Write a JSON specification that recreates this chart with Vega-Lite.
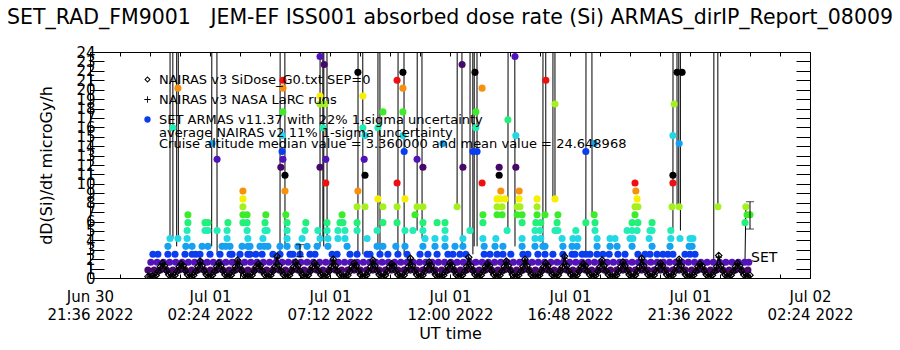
{
"$schema":"https://vega.github.io/schema/vega-lite/v6.json",
"width":720,"height":226,
"autosize":{"type":"none"},
"padding":{"left":90,"top":52,"right":90,"bottom":72},
"background":"white",
"title":{"text":"SET_RAD_FM9001\u00a0\u00a0 JEM-EF ISS001 absorbed dose rate (Si) ARMAS_dirIP_Report_08009","font":"DejaVu Sans","fontSize":20.5,"fontWeight":"normal","color":"black","anchor":"middle","baseline":"bottom","offset":24,"dy":27},
"config":{"view":{"stroke":"black","strokeWidth":1},
"axis":{"domain":false,"grid":false,"tickColor":"black","tickWidth":1,"labelColor":"black","titleColor":"black","labelFont":"DejaVu Sans","titleFont":"DejaVu Sans","titleFontWeight":"normal"}},
"datasets":{
"spk":[{"g":1,"m":48,"v":4.2},{"g":1,"m":51,"v":400},{"g":1,"m":55,"v":4.2},
{"g":2,"m":64,"v":3.36},{"g":2,"m":66,"v":400},{"g":2,"m":68,"v":4.2},
{"g":3,"m":148,"v":3.36},{"g":3,"m":154,"v":400},{"g":3,"m":161,"v":2.52},
{"g":4,"m":312,"v":2.52},{"g":4,"m":318,"v":400},{"g":4,"m":324,"v":3.36},
{"g":5,"m":408,"v":3.36},{"g":5,"m":411,"v":400},{"g":5,"m":415,"v":4.2},
{"g":6,"m":417,"v":3.36},{"g":6,"m":421,"v":400},{"g":6,"m":425,"v":4.2},
{"g":7,"m":499,"v":2.52},{"g":7,"m":505,"v":400},{"g":7,"m":511,"v":2.52},
{"g":8,"m":547,"v":3.36},{"g":8,"m":549,"v":400},{"g":8,"m":552,"v":2.52},
{"g":9,"m":595,"v":2.52},{"g":9,"m":602,"v":400},{"g":9,"m":610,"v":2.52},
{"g":10,"m":641,"v":5.04},{"g":10,"m":647,"v":400},{"g":10,"m":653,"v":4.2},
{"g":11,"m":737,"v":7.56},{"g":11,"m":743,"v":400},{"g":11,"m":749,"v":3.36},
{"g":12,"m":768,"v":5.04},{"g":12,"m":771,"v":400},{"g":12,"m":775,"v":2.52},
{"g":13,"m":778,"v":3.36},{"g":13,"m":781,"v":400},{"g":13,"m":785,"v":3.36},
{"g":14,"m":859,"v":5.04},{"g":14,"m":867,"v":400},{"g":14,"m":876,"v":3.36},
{"g":15,"m":943,"v":3.36},{"g":15,"m":946,"v":400},{"g":15,"m":950,"v":6.72},
{"g":16,"m":967,"v":8.4},{"g":16,"m":970,"v":400},{"g":16,"m":972,"v":8.4},
{"g":17,"m":1046,"v":2.52},{"g":17,"m":1053,"v":400},{"g":17,"m":1061,"v":6.72},
{"g":18,"m":1255,"v":5.04},{"g":18,"m":1260,"v":400},{"g":18,"m":1265,"v":7.56},
{"g":19,"m":1269,"v":7.56},{"g":19,"m":1271,"v":400},{"g":19,"m":1273,"v":5.04},
{"g":20,"m":1353,"v":1.68},{"g":20,"m":1358,"v":400},{"g":20,"m":1363,"v":7.56},
{"g":21,"m":1428,"v":1.68},{"g":21,"m":1430,"v":7.56}],
"armas":[
{"m":-5,"v":0.84},{"m":10,"v":0.84},{"m":25,"v":0.84},{"m":40,"v":0.84},{"m":55,"v":0.84},{"m":70,"v":0.84},{"m":85,"v":0.84},{"m":100,"v":0.84},{"m":115,"v":0.84},{"m":130,"v":0.84},{"m":145,"v":0.84},{"m":160,"v":0.84},{"m":175,"v":0.84},{"m":190,"v":0.84},{"m":205,"v":0.84},{"m":220,"v":0.84},{"m":235,"v":0.84},{"m":250,"v":0.84},{"m":265,"v":0.84},{"m":280,"v":0.84},{"m":295,"v":0.84},{"m":310,"v":0.84},{"m":325,"v":0.84},{"m":340,"v":0.84},{"m":355,"v":0.84},{"m":370,"v":0.84},{"m":385,"v":0.84},{"m":400,"v":0.84},{"m":415,"v":0.84},{"m":430,"v":0.84},{"m":445,"v":0.84},{"m":460,"v":0.84},{"m":475,"v":0.84},{"m":490,"v":0.84},{"m":505,"v":0.84},{"m":520,"v":0.84},{"m":535,"v":0.84},{"m":550,"v":0.84},{"m":565,"v":0.84},{"m":580,"v":0.84},{"m":595,"v":0.84},{"m":610,"v":0.84},{"m":625,"v":0.84},{"m":640,"v":0.84},{"m":655,"v":0.84},{"m":670,"v":0.84},{"m":685,"v":0.84},{"m":700,"v":0.84},{"m":715,"v":0.84},{"m":730,"v":0.84},{"m":745,"v":0.84},{"m":760,"v":0.84},{"m":775,"v":0.84},{"m":790,"v":0.84},{"m":805,"v":0.84},{"m":820,"v":0.84},{"m":835,"v":0.84},{"m":850,"v":0.84},{"m":865,"v":0.84},{"m":880,"v":0.84},{"m":895,"v":0.84},{"m":910,"v":0.84},{"m":925,"v":0.84},{"m":940,"v":0.84},{"m":955,"v":0.84},{"m":970,"v":0.84},{"m":985,"v":0.84},{"m":1000,"v":0.84},{"m":1015,"v":0.84},{"m":1030,"v":0.84},{"m":1045,"v":0.84},{"m":1060,"v":0.84},{"m":1075,"v":0.84},{"m":1090,"v":0.84},{"m":1105,"v":0.84},{"m":1120,"v":0.84},{"m":1135,"v":0.84},{"m":1150,"v":0.84},{"m":1165,"v":0.84},{"m":1180,"v":0.84},{"m":1195,"v":0.84},{"m":1210,"v":0.84},{"m":1225,"v":0.84},{"m":1240,"v":0.84},{"m":1255,"v":0.84},{"m":1270,"v":0.84},{"m":1285,"v":0.84},{"m":1300,"v":0.84},{"m":1315,"v":0.84},{"m":1330,"v":0.84},{"m":1345,"v":0.84},{"m":1360,"v":0.84},{"m":1375,"v":0.84},{"m":1390,"v":0.84},{"m":1405,"v":0.84},{"m":1420,"v":0.84},{"m":1435,"v":0.84},
{"m":2,"v":1.68},{"m":17,"v":1.68},{"m":32,"v":1.68},{"m":47,"v":1.68},{"m":62,"v":1.68},{"m":77,"v":1.68},{"m":92,"v":1.68},{"m":107,"v":1.68},{"m":122,"v":1.68},{"m":137,"v":1.68},{"m":152,"v":1.68},{"m":167,"v":1.68},{"m":182,"v":1.68},{"m":197,"v":1.68},{"m":212,"v":1.68},{"m":227,"v":1.68},{"m":242,"v":1.68},{"m":257,"v":1.68},{"m":272,"v":1.68},{"m":287,"v":1.68},{"m":302,"v":1.68},{"m":317,"v":1.68},{"m":332,"v":1.68},{"m":347,"v":1.68},{"m":362,"v":1.68},{"m":377,"v":1.68},{"m":392,"v":1.68},{"m":407,"v":1.68},{"m":422,"v":1.68},{"m":437,"v":1.68},{"m":452,"v":1.68},{"m":467,"v":1.68},{"m":482,"v":1.68},{"m":497,"v":1.68},{"m":512,"v":1.68},{"m":527,"v":1.68},{"m":542,"v":1.68},{"m":557,"v":1.68},{"m":572,"v":1.68},{"m":587,"v":1.68},{"m":602,"v":1.68},{"m":617,"v":1.68},{"m":632,"v":1.68},{"m":647,"v":1.68},{"m":662,"v":1.68},{"m":677,"v":1.68},{"m":692,"v":1.68},{"m":707,"v":1.68},{"m":722,"v":1.68},{"m":737,"v":1.68},{"m":752,"v":1.68},{"m":767,"v":1.68},{"m":782,"v":1.68},{"m":797,"v":1.68},{"m":812,"v":1.68},{"m":827,"v":1.68},{"m":842,"v":1.68},{"m":857,"v":1.68},{"m":872,"v":1.68},{"m":887,"v":1.68},{"m":902,"v":1.68},{"m":917,"v":1.68},{"m":932,"v":1.68},{"m":947,"v":1.68},{"m":962,"v":1.68},{"m":977,"v":1.68},{"m":992,"v":1.68},{"m":1007,"v":1.68},{"m":1022,"v":1.68},{"m":1037,"v":1.68},{"m":1052,"v":1.68},{"m":1067,"v":1.68},{"m":1082,"v":1.68},{"m":1097,"v":1.68},{"m":1112,"v":1.68},{"m":1127,"v":1.68},{"m":1142,"v":1.68},{"m":1157,"v":1.68},{"m":1172,"v":1.68},{"m":1187,"v":1.68},{"m":1202,"v":1.68},{"m":1217,"v":1.68},{"m":1232,"v":1.68},{"m":1247,"v":1.68},{"m":1262,"v":1.68},{"m":1277,"v":1.68},{"m":1292,"v":1.68},{"m":1307,"v":1.68},{"m":1322,"v":1.68},{"m":1337,"v":1.68},{"m":1352,"v":1.68},{"m":1367,"v":1.68},{"m":1382,"v":1.68},{"m":1397,"v":1.68},{"m":1412,"v":1.68},{"m":1427,"v":1.68},{"m":1437,"v":1.68},
{"m":19,"v":2.52},{"m":60,"v":2.52},{"m":110,"v":2.52},{"m":197,"v":2.52},{"m":254,"v":2.52},{"m":295,"v":2.52},{"m":343,"v":2.52},{"m":437,"v":2.52},{"m":480,"v":2.52},{"m":528,"v":2.52},{"m":571,"v":2.52},{"m":667,"v":2.52},{"m":715,"v":2.52},{"m":758,"v":2.52},{"m":816,"v":2.52},{"m":866,"v":2.52},{"m":907,"v":2.52},{"m":967,"v":2.52},{"m":1056,"v":2.52},{"m":1087,"v":2.52},{"m":1188,"v":2.52},{"m":1231,"v":2.52},{"m":1284,"v":2.52},
{"m":7,"v":2.52},
{"m":43,"v":2.52},{"m":43,"v":3.36},{"m":48,"v":4.2},{"m":55,"v":15.96},
{"m":67,"v":4.2},{"m":67,"v":20.16},
{"m":84,"v":2.52},{"m":86,"v":3.36},{"m":89,"v":4.2},{"m":89,"v":5.04},{"m":91,"v":5.88},{"m":91,"v":6.72},
{"m":101,"v":2.52},{"m":101,"v":3.36},
{"m":120,"v":2.52},{"m":125,"v":3.36},{"m":132,"v":5.04},{"m":132,"v":5.88},{"m":139,"v":5.04},{"m":139,"v":5.88},{"m":144,"v":2.52},{"m":139,"v":3.36},
{"m":149,"v":14.28},{"m":161,"v":12.6},{"m":161,"v":5.04},
{"m":168,"v":2.52},{"m":173,"v":3.36},{"m":185,"v":4.2},{"m":185,"v":5.04},{"m":187,"v":5.88},{"m":192,"v":2.52},{"m":192,"v":3.36},{"m":182,"v":3.36},
{"m":216,"v":2.52},{"m":235,"v":2.52},{"m":221,"v":3.36},{"m":235,"v":3.36},{"m":235,"v":4.2},{"m":233,"v":5.04},{"m":223,"v":5.88},{"m":233,"v":5.88},{"m":223,"v":6.72},{"m":233,"v":6.72},{"m":223,"v":7.56},{"m":223,"v":8.4},{"m":223,"v":9.24},
{"m":240,"v":2.52},{"m":269,"v":2.52},{"m":240,"v":3.36},{"m":264,"v":3.36},{"m":274,"v":3.36},{"m":283,"v":3.36},{"m":271,"v":4.2},{"m":276,"v":5.04},{"m":281,"v":5.04},{"m":276,"v":5.88},{"m":278,"v":6.72},
{"m":317,"v":13.44},{"m":319,"v":12.6},{"m":314,"v":11.76},{"m":324,"v":10.92},{"m":324,"v":9.24},{"m":326,"v":6.72},{"m":329,"v":5.88},{"m":329,"v":5.04},{"m":329,"v":4.2},{"m":312,"v":3.36},{"m":329,"v":3.36},{"m":336,"v":2.52},{"m":312,"v":2.52},{"m":319,"v":21},{"m":319,"v":20.16},{"m":319,"v":17.64},{"m":317,"v":15.12},
{"m":365,"v":4.2},{"m":372,"v":5.04},{"m":374,"v":5.88},{"m":355,"v":3.36},{"m":377,"v":3.36},{"m":360,"v":2.52},{"m":384,"v":2.52},
{"m":408,"v":11.76},{"m":422,"v":12.6},{"m":422,"v":10.08},{"m":425,"v":5.88},{"m":403,"v":5.04},{"m":425,"v":5.04},{"m":408,"v":4.2},{"m":427,"v":4.2},{"m":401,"v":3.36},{"m":427,"v":3.36},{"m":396,"v":2.52},{"m":408,"v":23.52},{"m":418,"v":22.68},{"m":408,"v":19.32},{"m":408,"v":18.48},{"m":420,"v":18.48},{"m":415,"v":15.96},
{"m":461,"v":6.72},{"m":456,"v":5.88},{"m":463,"v":5.88},{"m":451,"v":5.04},{"m":468,"v":5.04},{"m":451,"v":4.2},{"m":468,"v":4.2},{"m":473,"v":3.36},{"m":449,"v":2.52},
{"m":514,"v":12.6},{"m":516,"v":10.92},{"m":499,"v":9.24},{"m":497,"v":7.56},{"m":516,"v":7.56},{"m":497,"v":5.88},{"m":497,"v":5.04},{"m":521,"v":4.2},{"m":497,"v":2.52},{"m":521,"v":2.52},{"m":499,"v":21.84},{"m":511,"v":19.32},{"m":511,"v":15.96},{"m":516,"v":15.12},
{"m":547,"v":8.4},{"m":559,"v":7.56},{"m":559,"v":5.88},{"m":545,"v":5.04},{"m":545,"v":3.36},{"m":559,"v":3.36},{"m":552,"v":2.52},{"m":559,"v":17.64},{"m":547,"v":15.96},
{"m":610,"v":13.44},{"m":593,"v":10.08},{"m":612,"v":8.4},{"m":593,"v":7.56},{"m":593,"v":5.88},{"m":612,"v":5.04},{"m":590,"v":3.36},{"m":612,"v":3.36},{"m":595,"v":2.52},{"m":617,"v":2.52},{"m":593,"v":21},{"m":607,"v":20.16},{"m":607,"v":21.84},{"m":607,"v":17.64},{"m":607,"v":15.12},
{"m":641,"v":12.6},{"m":655,"v":11.76},{"m":641,"v":7.56},{"m":655,"v":7.56},{"m":636,"v":6.72},{"m":655,"v":5.88},{"m":631,"v":5.04},{"m":655,"v":5.04},{"m":660,"v":4.2},{"m":655,"v":3.36},{"m":648,"v":2.52},
{"m":689,"v":5.88},{"m":708,"v":5.88},{"m":708,"v":5.04},{"m":684,"v":4.2},{"m":708,"v":4.2},{"m":684,"v":3.36},{"m":708,"v":3.36},{"m":689,"v":2.52},{"m":703,"v":14.28},
{"m":751,"v":11.76},{"m":737,"v":7.56},{"m":751,"v":4.2},{"m":732,"v":3.36},{"m":751,"v":3.36},{"m":727,"v":2.52},{"m":744,"v":2.52},{"m":749,"v":22.68},
{"m":768,"v":5.04},{"m":775,"v":13.44},{"m":785,"v":13.44},{"m":797,"v":10.08},{"m":799,"v":6.72},{"m":799,"v":5.88},{"m":799,"v":4.2},{"m":802,"v":3.36},{"m":802,"v":2.52},{"m":780,"v":21.84},{"m":797,"v":20.16},{"m":782,"v":17.64},{"m":782,"v":15.96},
{"m":838,"v":11.76},{"m":838,"v":10.92},{"m":842,"v":9.24},{"m":833,"v":8.4},{"m":840,"v":8.4},{"m":852,"v":8.4},{"m":833,"v":7.56},{"m":845,"v":7.56},{"m":833,"v":6.72},{"m":845,"v":6.72},{"m":830,"v":4.2},{"m":828,"v":3.36},{"m":847,"v":3.36},{"m":833,"v":2.52},{"m":847,"v":2.52},{"m":857,"v":5.04},{"m":859,"v":16.8},{"m":876,"v":23.52},{"m":878,"v":15.12},
{"m":878,"v":11.76},{"m":886,"v":9.24},{"m":886,"v":8.4},{"m":881,"v":7.56},{"m":888,"v":7.56},{"m":881,"v":6.72},{"m":893,"v":6.72},{"m":893,"v":5.88},{"m":893,"v":4.2},{"m":893,"v":3.36},{"m":895,"v":2.52},
{"m":929,"v":8.4},{"m":929,"v":7.56},{"m":929,"v":6.72},{"m":948,"v":6.72},{"m":926,"v":5.88},{"m":938,"v":5.88},{"m":924,"v":5.04},{"m":936,"v":5.04},{"m":924,"v":4.2},{"m":938,"v":4.2},{"m":924,"v":3.36},{"m":943,"v":3.36},{"m":948,"v":3.36},{"m":931,"v":2.52},{"m":948,"v":2.52},{"m":950,"v":21},{"m":972,"v":18.48},
{"m":972,"v":8.4},{"m":979,"v":6.72},{"m":977,"v":5.88},{"m":972,"v":5.04},{"m":979,"v":5.04},{"m":989,"v":4.2},{"m":991,"v":3.36},{"m":991,"v":2.52},
{"m":1022,"v":5.04},{"m":1015,"v":4.2},{"m":1027,"v":4.2},{"m":1013,"v":3.36},{"m":1025,"v":3.36},{"m":1013,"v":2.52},{"m":1020,"v":2.52},
{"m":1046,"v":13.44},{"m":1066,"v":6.72},{"m":1046,"v":5.88},{"m":1068,"v":5.88},{"m":1068,"v":5.04},{"m":1073,"v":4.2},{"m":1073,"v":3.36},{"m":1037,"v":2.52},{"m":1046,"v":2.52},{"m":1073,"v":2.52},{"m":1066,"v":14.28},
{"m":1104,"v":4.2},{"m":1116,"v":4.2},{"m":1104,"v":3.36},{"m":1121,"v":3.36},{"m":1102,"v":2.52},{"m":1123,"v":2.52},
{"m":1164,"v":10.08},{"m":1166,"v":9.24},{"m":1169,"v":8.4},{"m":1164,"v":7.56},{"m":1171,"v":7.56},{"m":1164,"v":6.72},{"m":1157,"v":5.88},{"m":1171,"v":5.88},{"m":1145,"v":5.04},{"m":1157,"v":5.04},{"m":1169,"v":5.04},{"m":1152,"v":4.2},{"m":1159,"v":4.2},{"m":1157,"v":3.36},{"m":1140,"v":2.52},{"m":1171,"v":2.52},
{"m":1205,"v":5.88},{"m":1200,"v":5.04},{"m":1205,"v":5.04},{"m":1198,"v":4.2},{"m":1205,"v":3.36},{"m":1200,"v":2.52},{"m":1217,"v":2.52},
{"m":1255,"v":10.92},{"m":1255,"v":10.08},{"m":1253,"v":7.56},{"m":1270,"v":7.56},{"m":1250,"v":5.04},{"m":1250,"v":4.2},{"m":1272,"v":4.2},{"m":1248,"v":3.36},{"m":1243,"v":2.52},{"m":1255,"v":2.52},{"m":1265,"v":21.84},{"m":1277,"v":21.84},{"m":1258,"v":18.48},{"m":1255,"v":15.12},{"m":1270,"v":14.28},
{"m":1296,"v":4.2},{"m":1303,"v":4.2},{"m":1294,"v":3.36},{"m":1301,"v":3.36},{"m":1296,"v":2.52},{"m":1308,"v":2.52},
{"m":1363,"v":7.56},
{"m":1430,"v":7.56},{"m":1433,"v":6.72},{"m":1440,"v":6.72},{"m":1428,"v":5.88}],
"nai":[
{"m":-5,"v":0.15},{"m":0,"v":0.15},{"m":5,"v":0.2},
{"m":10,"v":0.15},{"m":15,"v":0.3},{"m":20,"v":0.7},{"m":25,"v":1.2},{"m":30,"v":1.6},{"m":35,"v":1.3},{"m":40,"v":0.75},{"m":45,"v":0.35},{"m":50,"v":0.15},
{"m":55,"v":0.15},{"m":60,"v":0.3},{"m":65,"v":0.7},{"m":70,"v":1.2},{"m":75,"v":1.5},{"m":80,"v":1.3},{"m":85,"v":0.75},{"m":90,"v":0.35},{"m":95,"v":0.15},
{"m":100,"v":0.15},{"m":105,"v":0.3},{"m":110,"v":0.7},{"m":115,"v":1.2},{"m":120,"v":1.8},{"m":125,"v":1.3},{"m":130,"v":0.75},{"m":135,"v":0.35},{"m":140,"v":0.15},
{"m":145,"v":0.15},{"m":150,"v":0.3},{"m":155,"v":0.7},{"m":160,"v":1.2},{"m":165,"v":1.6},{"m":170,"v":1.3},{"m":175,"v":0.75},{"m":180,"v":0.35},{"m":185,"v":0.15},
{"m":190,"v":0.15},{"m":195,"v":0.3},{"m":200,"v":0.7},{"m":205,"v":1.2},{"m":210,"v":1.9},{"m":215,"v":1.3},{"m":220,"v":0.75},{"m":225,"v":0.35},{"m":230,"v":0.15},{"m":235,"v":0.15},
{"m":240,"v":0.15},{"m":245,"v":0.3},{"m":250,"v":0.7},{"m":255,"v":1.2},{"m":260,"v":1.5},{"m":265,"v":1.3},{"m":270,"v":0.75},{"m":275,"v":0.35},{"m":280,"v":0.15},
{"m":285,"v":0.15},{"m":290,"v":0.3},{"m":295,"v":0.7},{"m":300,"v":1.2},{"m":305,"v":2.3},{"m":310,"v":1.3},{"m":315,"v":0.75},{"m":320,"v":0.35},{"m":325,"v":0.15},
{"m":330,"v":0.15},{"m":335,"v":0.3},{"m":340,"v":0.7},{"m":345,"v":1.2},{"m":350,"v":1.7},{"m":355,"v":1.3},{"m":360,"v":0.75},{"m":365,"v":0.35},{"m":370,"v":0.15},
{"m":375,"v":0.15},{"m":380,"v":0.3},{"m":385,"v":0.7},{"m":390,"v":1.2},{"m":395,"v":1.6},{"m":400,"v":1.3},{"m":405,"v":0.75},{"m":410,"v":0.35},{"m":415,"v":0.15},
{"m":420,"v":0.15},{"m":425,"v":0.3},{"m":430,"v":0.7},{"m":435,"v":1.2},{"m":440,"v":2.0},{"m":445,"v":1.3},{"m":450,"v":0.75},{"m":455,"v":0.35},{"m":460,"v":0.15},{"m":465,"v":0.15},
{"m":470,"v":0.15},{"m":475,"v":0.3},{"m":480,"v":0.7},{"m":485,"v":1.2},{"m":490,"v":1.6},{"m":495,"v":1.3},{"m":500,"v":0.75},{"m":505,"v":0.35},{"m":510,"v":0.15},
{"m":515,"v":0.15},{"m":520,"v":0.3},{"m":525,"v":0.7},{"m":530,"v":1.2},{"m":535,"v":1.9},{"m":540,"v":1.3},{"m":545,"v":0.75},{"m":550,"v":0.35},{"m":555,"v":0.15},
{"m":560,"v":0.15},{"m":565,"v":0.3},{"m":570,"v":0.7},{"m":575,"v":1.2},{"m":580,"v":1.5},{"m":585,"v":1.3},{"m":590,"v":0.75},{"m":595,"v":0.35},{"m":600,"v":0.15},
{"m":605,"v":0.15},{"m":610,"v":0.3},{"m":615,"v":0.7},{"m":620,"v":1.2},{"m":625,"v":2.1},{"m":630,"v":1.3},{"m":635,"v":0.75},{"m":640,"v":0.35},{"m":645,"v":0.15},
{"m":650,"v":0.15},{"m":655,"v":0.3},{"m":660,"v":0.7},{"m":665,"v":1.2},{"m":670,"v":1.7},{"m":675,"v":1.3},{"m":680,"v":0.75},{"m":685,"v":0.35},{"m":690,"v":0.15},{"m":695,"v":0.15},
{"m":700,"v":0.15},{"m":705,"v":0.3},{"m":710,"v":0.7},{"m":715,"v":1.2},{"m":720,"v":1.6},{"m":725,"v":1.3},{"m":730,"v":0.75},{"m":735,"v":0.35},{"m":740,"v":0.15},
{"m":745,"v":0.15},{"m":750,"v":0.3},{"m":755,"v":0.7},{"m":760,"v":1.2},{"m":765,"v":2.2},{"m":770,"v":1.3},{"m":775,"v":0.75},{"m":780,"v":0.35},{"m":785,"v":0.15},
{"m":790,"v":0.15},{"m":795,"v":0.3},{"m":800,"v":0.7},{"m":805,"v":1.2},{"m":810,"v":1.5},{"m":815,"v":1.3},{"m":820,"v":0.75},{"m":825,"v":0.35},{"m":830,"v":0.15},
{"m":835,"v":0.15},{"m":840,"v":0.3},{"m":845,"v":0.7},{"m":850,"v":1.2},{"m":855,"v":1.8},{"m":860,"v":1.3},{"m":865,"v":0.75},{"m":870,"v":0.35},{"m":875,"v":0.15},
{"m":880,"v":0.15},{"m":885,"v":0.3},{"m":890,"v":0.7},{"m":895,"v":1.2},{"m":900,"v":2.0},{"m":905,"v":1.3},{"m":910,"v":0.75},{"m":915,"v":0.35},{"m":920,"v":0.15},{"m":925,"v":0.15},
{"m":930,"v":0.15},{"m":935,"v":0.3},{"m":940,"v":0.7},{"m":945,"v":1.2},{"m":950,"v":1.6},{"m":955,"v":1.3},{"m":960,"v":0.75},{"m":965,"v":0.35},{"m":970,"v":0.15},
{"m":975,"v":0.15},{"m":980,"v":0.3},{"m":985,"v":0.7},{"m":990,"v":1.2},{"m":995,"v":2.3},{"m":1000,"v":1.3},{"m":1005,"v":0.75},{"m":1010,"v":0.35},{"m":1015,"v":0.15},
{"m":1020,"v":0.15},{"m":1025,"v":0.3},{"m":1030,"v":0.7},{"m":1035,"v":1.2},{"m":1040,"v":1.5},{"m":1045,"v":1.3},{"m":1050,"v":0.75},{"m":1055,"v":0.35},{"m":1060,"v":0.15},
{"m":1065,"v":0.15},{"m":1070,"v":0.3},{"m":1075,"v":0.7},{"m":1080,"v":1.2},{"m":1085,"v":1.9},{"m":1090,"v":1.3},{"m":1095,"v":0.75},{"m":1100,"v":0.35},{"m":1105,"v":0.15},{"m":1110,"v":0.15},
{"m":1115,"v":0.15},{"m":1120,"v":0.3},{"m":1125,"v":0.7},{"m":1130,"v":1.2},{"m":1135,"v":1.7},{"m":1140,"v":1.3},{"m":1145,"v":0.75},{"m":1150,"v":0.35},{"m":1155,"v":0.15},
{"m":1160,"v":0.15},{"m":1165,"v":0.3},{"m":1170,"v":0.7},{"m":1175,"v":1.2},{"m":1180,"v":2.1},{"m":1185,"v":1.3},{"m":1190,"v":0.75},{"m":1195,"v":0.35},{"m":1200,"v":0.15},
{"m":1205,"v":0.15},{"m":1210,"v":0.3},{"m":1215,"v":0.7},{"m":1220,"v":1.2},{"m":1225,"v":1.6},{"m":1230,"v":1.3},{"m":1235,"v":0.75},{"m":1240,"v":0.35},{"m":1245,"v":0.15},
{"m":1250,"v":0.15},{"m":1255,"v":0.3},{"m":1260,"v":0.7},{"m":1265,"v":1.2},{"m":1270,"v":2.0},{"m":1275,"v":1.3},{"m":1280,"v":0.75},{"m":1285,"v":0.35},{"m":1290,"v":0.15},{"m":1295,"v":0.15},
{"m":1300,"v":0.15},{"m":1305,"v":0.3},{"m":1310,"v":0.7},{"m":1315,"v":1.2},{"m":1320,"v":1.5},{"m":1325,"v":1.3},{"m":1330,"v":0.75},{"m":1335,"v":0.35},{"m":1340,"v":0.15},
{"m":1345,"v":0.15},{"m":1350,"v":0.3},{"m":1355,"v":0.7},{"m":1360,"v":1.2},{"m":1365,"v":2.4},{"m":1370,"v":1.3},{"m":1375,"v":0.75},{"m":1380,"v":0.35},{"m":1385,"v":0.15},
{"m":1390,"v":0.15},{"m":1395,"v":0.3},{"m":1400,"v":0.7},{"m":1405,"v":1.2},{"m":1410,"v":1.6},{"m":1415,"v":1.3},{"m":1420,"v":0.75},{"m":1425,"v":0.35},{"m":1430,"v":0.15},
{"m":1435,"v":0.15},{"m":1440,"v":0.3}],
"larc":[{"m":30,"v":1.4},{"m":75,"v":1.3},{"m":120,"v":1.6},{"m":165,"v":1.4},{"m":210,"v":1.7},{"m":260,"v":1.3},{"m":305,"v":2.1},{"m":350,"v":1.5},{"m":395,"v":1.4},{"m":440,"v":1.8},{"m":490,"v":1.4},{"m":535,"v":1.7},{"m":580,"v":1.3},{"m":625,"v":1.9},{"m":670,"v":1.5},{"m":720,"v":1.4},{"m":765,"v":2.0},{"m":810,"v":1.3},{"m":855,"v":1.6},{"m":900,"v":1.8},{"m":950,"v":1.4},{"m":995,"v":2.1},{"m":1040,"v":1.3},{"m":1085,"v":1.7},{"m":1135,"v":1.5},{"m":1180,"v":1.9},{"m":1225,"v":1.4},{"m":1270,"v":1.8},{"m":1320,"v":1.3},{"m":1365,"v":2.2},{"m":1410,"v":1.4}],
"eb":[{"m":360,"lo":2.26,"hi":3.54,"name":""},{"m":1440,"lo":5.2,"hi":8.1,"name":"SET"}]
},
"resolve":{"axis":{"x":"independent","y":"independent"}},
"layer":[
{"data":{"name":"spk"},"mark":{"type":"line","color":"black","strokeWidth":1,"clip":true},
"encoding":{"x":{"field":"m","type":"quantitative","scale":{"domain":[-144,1584],"nice":false,"zero":false},
"axis":{"orient":"top","values":[-144,-72,0,72,144,216,288,360,432,504,576,648,720,792,864,936,1008,1080,1152,1224,1296,1368,1440,1512,1584],"labels":false,"tickSize":-4,"title":null}},
"y":{"field":"v","type":"quantitative","scale":{"domain":[0,24],"nice":false},
"axis":{"orient":"right","values":[0,1,2,3,4,5,6,7,8,9,10,11,12,13,14,15,16,17,18,19,20,21,22,23,24],"labels":false,"tickSize":-14,"title":null}},
"detail":{"field":"g","type":"nominal"}}},
{"data":{"name":"armas"},"mark":{"type":"point","shape":"circle","filled":true,"size":50,"opacity":1,"clip":true},
"encoding":{"x":{"field":"m","type":"quantitative","title":"UT time",
"axis":{"orient":"bottom","values":[-144,-72,0,72,144,216,288,360,432,504,576,648,720,792,864,936,1008,1080,1152,1224,1296,1368,1440,1512,1584],"tickSize":-4,
"labelExpr":"abs(datum.value % 288) == 144 ? [timeFormat(time(datetime(2022,6,1)) + datum.value*60000, '%b %d'), timeFormat(time(datetime(2022,6,1)) + datum.value*60000, '%H:%M %Y')] : ''",
"labelFontSize":15,"labelLineHeight":18,"labelPadding":15,"labelOverlap":false,"labelFlush":false,"labelBaseline":"top","titleFontSize":16,"titlePadding":3}},
"y":{"field":"v","type":"quantitative","title":"dD(Si)/dt microGy/h",
"axis":{"orient":"left","values":[0,1,2,3,4,5,6,7,8,9,10,11,12,13,14,15,16,17,18,19,20,21,22,23,24],"tickSize":-14,"labelFontSize":15,"labelPadding":9,"labelOverlap":false,"labelFlush":false,"titleFontSize":16,"titlePadding":21}},
"color":{"field":"v","type":"quantitative","legend":null,
"scale":{"type":"threshold","domain":[1.26,2.1,2.94,3.78,4.62,5.46,6.3,7.14,7.98,8.82,9.66,10.5,11.34,12.18,13.02,13.86,14.7,15.54,16.38,17.22,18.06,18.9,19.74,20.58,21.42,22.26,23.1,23.94],
"range":["#46086a","#5214b8","#0a3cf0","#18a0f0","#22d8e6","#22eeb4","#22f078","#3cec28","#a4f01e","#f6f000","#f6900e","#ee1010","#000000","#46086a","#5214b8","#0a3cf0","#18a0f0","#22d8e6","#22eeb4","#22f078","#3cec28","#a4f01e","#f6f000","#f6900e","#ee1010","#000000","#46086a","#5214b8","#0a3cf0"]}}}},
{"data":{"name":"nai"},"mark":{"type":"line","color":"black","strokeWidth":1.6,"clip":true},
"encoding":{"x":{"field":"m","type":"quantitative","axis":null},"y":{"field":"v","type":"quantitative","axis":null}}},
{"data":{"name":"nai"},"mark":{"type":"point","shape":"diamond","filled":false,"stroke":"black","strokeWidth":1.2,"size":40,"opacity":1,"clip":true},
"encoding":{"x":{"field":"m","type":"quantitative","axis":null},"y":{"field":"v","type":"quantitative","axis":null}}},
{"data":{"name":"larc"},"mark":{"type":"point","shape":"M-1,-0.14L1,-0.14L1,0.14L-1,0.14Z M-0.14,-1L0.14,-1L0.14,1L-0.14,1Z","filled":true,"color":"black","size":40,"opacity":1,"clip":true},
"encoding":{"x":{"field":"m","type":"quantitative","axis":null},"y":{"field":"v","type":"quantitative","axis":null}}},
{"data":{"name":"eb"},"mark":{"type":"rule","color":"black","strokeWidth":1},
"encoding":{"x":{"field":"m","type":"quantitative","axis":null},"y":{"field":"lo","type":"quantitative","axis":null},"y2":{"field":"hi"}}},
{"data":{"name":"eb"},"mark":{"type":"tick","orient":"horizontal","color":"black","size":8,"thickness":1},
"encoding":{"x":{"field":"m","type":"quantitative","axis":null},"y":{"field":"lo","type":"quantitative","axis":null}}},
{"data":{"name":"eb"},"mark":{"type":"tick","orient":"horizontal","color":"black","size":8,"thickness":1},
"encoding":{"x":{"field":"m","type":"quantitative","axis":null},"y":{"field":"hi","type":"quantitative","axis":null}}},
{"data":{"name":"eb"},"mark":{"type":"text","align":"left","baseline":"top","dx":1,"dy":22,"font":"DejaVu Sans","fontSize":14,"color":"black"},
"encoding":{"x":{"field":"m","type":"quantitative","axis":null},"y":{"field":"lo","type":"quantitative","axis":null},"text":{"field":"name"}}},
{"data":{"values":[{"series":"NAIRAS v3 SiDose_G0.txt SEP=0"},{"series":"NAIRAS v3 NASA LaRC runs"},{"series":"SET ARMAS v11.37 with 22% 1-sigma uncertainty"}]},
"transform":[{"filter":"false"}],
"mark":{"type":"point","filled":true,"opacity":1},
"encoding":{
"shape":{"field":"series","type":"nominal","scale":{"domain":["NAIRAS v3 SiDose_G0.txt SEP=0","NAIRAS v3 NASA LaRC runs","SET ARMAS v11.37 with 22% 1-sigma uncertainty"],"range":["M0,-1L1,0L0,1L-1,0Z M0,-0.55L-0.55,0L0,0.55L0.55,0Z","M-1,-0.14L1,-0.14L1,0.14L-1,0.14Z M-0.14,-1L0.14,-1L0.14,1L-0.14,1Z","circle"]},
"legend":{"orient":"none","legendX":51,"legendY":21,"direction":"vertical","title":null,"padding":0,"labelFont":"DejaVu Sans","labelFontSize":13,"labelColor":"black","labelLimit":1000,"labelOffset":5,"symbolSize":40,"symbolOpacity":1,"symbolStrokeWidth":0,"rowPadding":6}},
"fill":{"field":"series","type":"nominal","scale":{"domain":["NAIRAS v3 SiDose_G0.txt SEP=0","NAIRAS v3 NASA LaRC runs","SET ARMAS v11.37 with 22% 1-sigma uncertainty"],"range":["black","black","#0a3cf0"]},
"legend":{"orient":"none","legendX":51,"legendY":21,"direction":"vertical","title":null,"padding":0,"labelFont":"DejaVu Sans","labelFontSize":13,"labelColor":"black","labelLimit":1000,"labelOffset":5,"symbolSize":40,"symbolOpacity":1,"symbolStrokeWidth":0,"rowPadding":6}}}},
{"data":{"values":[{"note":"average NAIRAS v2 11% 1-sigma uncertainty"}]},
"transform":[{"filter":"false"}],
"mark":{"type":"rule"},
"encoding":{"strokeDash":{"field":"note","type":"nominal","scale":{"domain":["average NAIRAS v2 11% 1-sigma uncertainty"]},
"legend":{"orient":"none","legendX":51,"legendY":74,"direction":"vertical","title":null,"padding":0,"labelFont":"DejaVu Sans","labelFontSize":13,"labelColor":"black","labelLimit":1000,"labelOffset":5,"symbolType":"circle","symbolSize":40,"symbolOpacity":0,"symbolStrokeWidth":0}}}},
{"data":{"values":[{"note2":"Cruise altitude median value = 3.360000 and mean value = 24.648968"}]},
"transform":[{"filter":"false"}],
"mark":{"type":"rule"},
"encoding":{"stroke":{"field":"note2","type":"nominal","scale":{"domain":["Cruise altitude median value = 3.360000 and mean value = 24.648968"],"range":["black"]},
"legend":{"orient":"none","legendX":51,"legendY":85,"direction":"vertical","title":null,"padding":0,"labelFont":"DejaVu Sans","labelFontSize":13,"labelColor":"black","labelLimit":1000,"labelOffset":5,"symbolType":"circle","symbolSize":40,"symbolOpacity":0,"symbolStrokeWidth":0}}}}
]
}
